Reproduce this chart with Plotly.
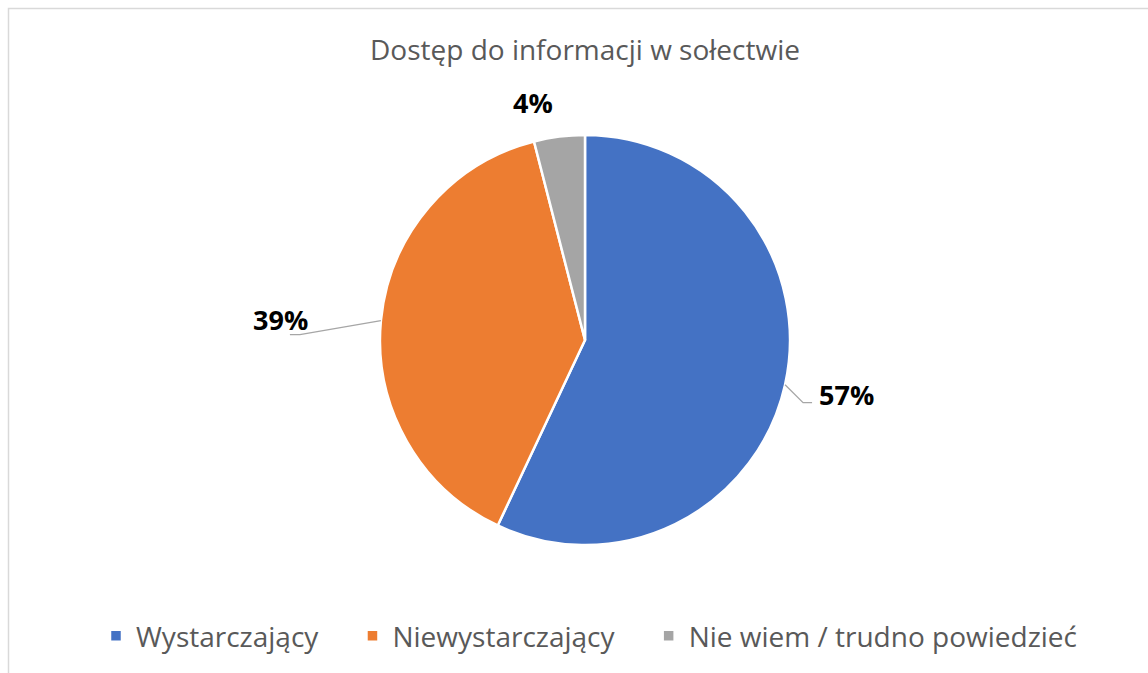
import math
import plotly.graph_objects as go

# ---- data ----
categories = ["Wystarczający", "Niewystarczający", "Nie wiem / trudno powiedzieć"]
values = [57, 39, 4]
colors = ["#4472C4", "#ED7D31", "#A5A5A5"]
title_text = "Dostęp do informacji w sołectwie"

W, H = 1148, 673

# pie geometry (pixels)
cx, cy, R = 585, 340, 205

# label placement styles (pixel offsets from slice edge): label pos, leader elbow, leader end
label_styles = [
    dict(label=(61, 10), elbow=(18, 18), end=(27, 18), leader=True),
    dict(label=(-100, -1), elbow=(-81, 14), end=(-91, 14), leader=True),
    dict(label=(-26, -34), elbow=None, end=None, leader=False),
]

def px2paper(x, y):
    return x / W, 1 - y / H

x0p, y1p = px2paper(cx - R, cy - R)
x1p, y0p = px2paper(cx + R, cy + R)

# legend entries with a little trailing spacing (non-breaking spaces)
legend_labels = [c + "\u00a0" * 4 for c in categories]

fig = go.Figure(go.Pie(
    labels=legend_labels, values=values, sort=False, direction="clockwise", rotation=0,
    marker=dict(colors=colors, line=dict(color="white", width=2.5)),
    textinfo="none", hoverinfo="label+percent",
    domain=dict(x=[x0p, x1p], y=[y0p, y1p]),
))

total = sum(values)
annotations = []
shapes = []
cum = 0
for v, st in zip(values, label_styles):
    mid = (cum + v / 2) / total * 2 * math.pi
    cum += v
    ex = cx + R * math.sin(mid)
    ey = cy - R * math.cos(mid)
    lx, ly = ex + st["label"][0], ey + st["label"][1]
    pct = round(v / total * 100)
    ax, ay = px2paper(lx, ly)
    annotations.append(dict(x=ax, y=ay, xref="paper", yref="paper", text=f"<b>{pct}%</b>",
                            showarrow=False, font=dict(size=27, color="black", family="Open Sans"),
                            xanchor="center", yanchor="middle"))
    if st["leader"]:
        p0 = px2paper(ex, ey)
        p1 = px2paper(ex + st["elbow"][0], ey + st["elbow"][1])
        p2 = px2paper(ex + st["end"][0], ey + st["end"][1])
        shapes.append(dict(type="path", xref="paper", yref="paper",
                           path=f"M {p0[0]},{p0[1]} L {p1[0]},{p1[1]} L {p2[0]},{p2[1]}",
                           line=dict(color="#A6A6A6", width=1.3)))

# chart area border
bx0, by1 = px2paper(8.5, 8.5)
shapes.append(dict(type="rect", xref="paper", yref="paper", x0=bx0, y0=-0.1, x1=1.1, y1=by1,
                   line=dict(color="#D9D9D9", width=1.5), fillcolor="rgba(0,0,0,0)", layer="below"))

fig.update_layout(
    width=W, height=H,
    margin=dict(l=0, r=0, t=0, b=0),
    paper_bgcolor="white", plot_bgcolor="white",
    title=dict(text=title_text, x=cx / W, xanchor="center", y=1 - 50 / H, yanchor="middle",
               font=dict(family="Open Sans", size=28, color="#595959")),
    showlegend=True,
    legend=dict(orientation="h", x=604 / W, xanchor="center", y=1 - 636 / H, yanchor="middle",
                font=dict(family="Open Sans", size=28, color="#595959"), traceorder="normal"),
    annotations=annotations, shapes=shapes,
)

fig.write_html("out.html")
